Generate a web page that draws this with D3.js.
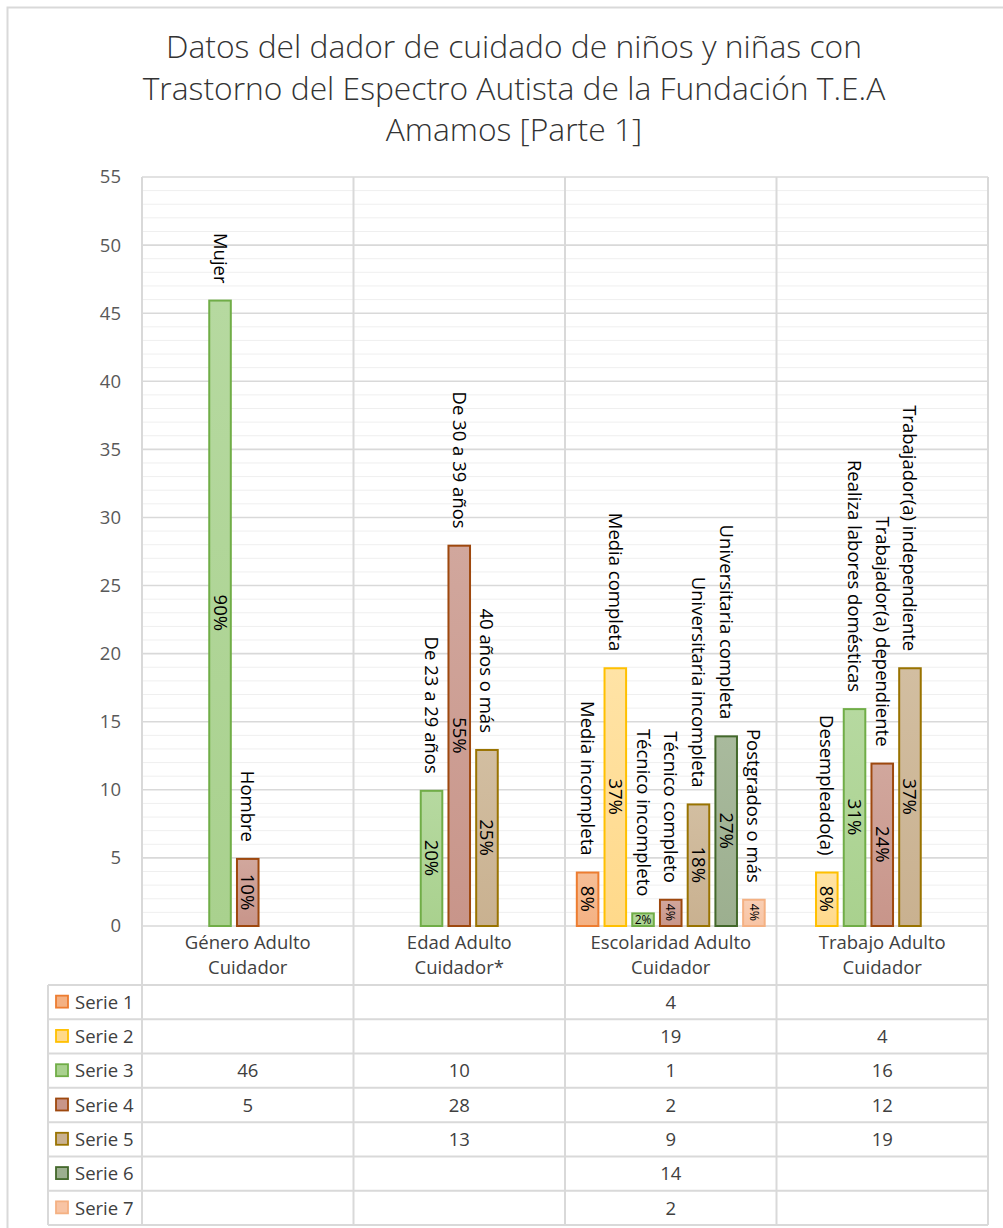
<!DOCTYPE html>
<html><head><meta charset="utf-8">
<script src="https://cdn.jsdelivr.net/npm/d3@7"></script>
<style>
body{margin:0;background:#fff;}
svg{display:block;font-family:'Open Sans','Noto Sans',sans-serif;}
</style>
</head><body>
<svg id="chart" width="1003" height="1228"></svg>
<script>
// ---------- DATA ----------
const titleLines = [
  "Datos del dador de cuidado de niños y niñas con",
  "Trastorno del Espectro Autista de la Fundación T.E.A",
  "Amamos [Parte 1]"
];
const categories = ["Género Adulto Cuidador","Edad Adulto Cuidador*","Escolaridad Adulto Cuidador","Trabajo Adulto Cuidador"];
const categoryLines = [["Género Adulto","Cuidador"],["Edad Adulto","Cuidador*"],["Escolaridad Adulto","Cuidador"],["Trabajo Adulto","Cuidador"]];
const seriesNames = ["Serie 1","Serie 2","Serie 3","Serie 4","Serie 5","Serie 6","Serie 7"];
const yTicks = [0,5,10,15,20,25,30,35,40,45,50,55];

const serie1 = [null, null, 4, null];
const serie2 = [null, null, 19, 4];
const serie3 = [46, 10, 1, 16];
const serie4 = [5, 28, 2, 12];
const serie5 = [null, 13, 9, 19];
const serie6 = [null, null, 14, null];
const serie7 = [null, null, 2, null];

const names1 = [null, null, "Media incompleta", null];
const names2 = [null, null, "Media completa", "Desempleado(a)"];
const names3 = ["Mujer", "De 23 a 29 años", "Técnico incompleto", "Realiza labores domésticas"];
const names4 = ["Hombre", "De 30 a 39 años", "Técnico completo", "Trabajador(a) dependiente"];
const names5 = [null, "40 años o más", "Universitaria incompleta", "Trabajador(a) independiente"];
const names6 = [null, null, "Universitaria completa", null];
const names7 = [null, null, "Postgrados o más", null];

const pct1 = [null, null, "8%", null];
const pct2 = [null, null, "37%", "8%"];
const pct3 = ["90%", "20%", "2%", "31%"];
const pct4 = ["10%", "55%", "4%", "24%"];
const pct5 = [null, "25%", "18%", "37%"];
const pct6 = [null, null, "27%", null];
const pct7 = [null, null, "4%", null];

const fills   = ["#F4B183","#FFD98A","#A9D18E","#C8958A","#C9B190","#9CAF8F","#F8C4A4"];
const fillsTop= ["#F6BE96","#FFE3A6","#B6D9A0","#D1A79D","#D2BEA1","#A9BA9D","#F9CFB4"];
const strokes = ["#ED7D31","#FFC000","#70AD47","#9E480E","#997300","#43682B","#F4B183"];

const seriesValues = [serie1,serie2,serie3,serie4,serie5,serie6,serie7];
const seriesLabels = [names1,names2,names3,names4,names5,names6,names7];
const seriesPcts = [pct1,pct2,pct3,pct4,pct5,pct6,pct7];

// ---------- LAYOUT ----------
const svg = d3.select("#chart");
const plotL = 142, plotR = 988, plotT = 177, plotB = 926;
const tableL = 48, headerB = 985, tableB = 1225;
const gridCol = "#d9d9d9";

svg.append("rect").attr("x",7.5).attr("y",7.5).attr("width",1100).attr("height",1300)
  .attr("fill","#fff").attr("stroke","#d9d9d9").attr("stroke-width",2);

const defs = svg.append("defs");
fills.forEach((c,i)=>{
  const g = defs.append("linearGradient").attr("id","g"+i).attr("x1",0).attr("y1",0).attr("x2",0).attr("y2",1);
  g.append("stop").attr("offset","0%").attr("stop-color",fillsTop[i]);
  g.append("stop").attr("offset","100%").attr("stop-color",c);
});

// title
const title = svg.append("g").attr("fill","#333").attr("font-weight",300);
const titleY = [58, 100, 141];
const tNodes = titleLines.map((t,i)=> title.append("text").attr("x",514).attr("y",titleY[i])
  .attr("text-anchor","middle").attr("font-size",25).text(t));
const w2 = tNodes[1].node().getComputedTextLength();
const tSize = 25*743/w2;
tNodes.forEach(n=>n.attr("font-size",tSize));

// scales
const y = d3.scaleLinear().domain([0,55]).range([plotB,plotT]);
const x0 = d3.scaleBand().domain(categories).range([plotL,plotR]).paddingInner(0).paddingOuter(0);
const x1 = d3.scaleBand().domain(d3.range(seriesNames.length)).range([0,x0.bandwidth()]).paddingInner(0.15).paddingOuter(0.39);

// gridlines
const minor = d3.range(1,56).filter(v=>v%5!==0);
svg.append("g").selectAll("line").data(minor).join("line")
  .attr("x1",plotL).attr("x2",plotR).attr("y1",d=>y(d)).attr("y2",d=>y(d))
  .attr("stroke","#efefef").attr("stroke-width",1);
svg.append("g").selectAll("line").data(yTicks).join("line")
  .attr("x1",plotL).attr("x2",plotR).attr("y1",d=>y(d)).attr("y2",d=>y(d))
  .attr("stroke",gridCol).attr("stroke-width",1.6);

// y axis labels
const yAxis = d3.axisLeft(y).tickValues(yTicks).tickSize(0).tickPadding(0);
const ya = svg.append("g").attr("transform",`translate(${plotL-21},0)`).call(yAxis);
ya.select(".domain").remove();
ya.selectAll("text").attr("font-size",18.5).attr("fill","#595959").attr("font-family","'Open Sans',sans-serif");

// table rows
const rowScale = d3.scaleBand().domain(seriesNames).range([headerB,tableB]);
const hLines = [headerB].concat(seriesNames.map(s=>rowScale(s)+rowScale.bandwidth()));
svg.append("g").selectAll("line").data(hLines).join("line")
  .attr("x1",tableL).attr("x2",plotR).attr("y1",d=>d).attr("y2",d=>d)
  .attr("stroke",gridCol).attr("stroke-width",2);
svg.append("line").attr("x1",tableL).attr("x2",tableL).attr("y1",headerB).attr("y2",tableB)
  .attr("stroke",gridCol).attr("stroke-width",2);

const vx = categories.map(c=>x0(c)).concat([plotR]);
svg.append("g").selectAll("line").data(vx).join("line")
  .attr("x1",d=>d).attr("x2",d=>d).attr("y1",plotT).attr("y2",tableB)
  .attr("stroke",gridCol).attr("stroke-width",2);

// category labels
const catG = svg.append("g").attr("fill","#404040").attr("font-size",18.5).attr("text-anchor","middle");
categories.forEach((c,i)=>{
  categoryLines[i].forEach((l,j)=>{
    catG.append("text").attr("x",x0(c)+x0.bandwidth()/2).attr("y",949+j*25).text(l);
  });
});

// legend column
const leg = svg.append("g");
seriesNames.forEach((s,i)=>{
  const cy = rowScale(s)+rowScale.bandwidth()/2;
  leg.append("rect").attr("x",56).attr("y",cy-6.5).attr("width",12).attr("height",12)
    .attr("fill",fills[i]).attr("stroke",strokes[i]).attr("stroke-width",1.8);
  leg.append("text").attr("x",75).attr("y",cy).attr("dy","0.36em").attr("font-size",18.5)
    .attr("fill","#404040").text(s);
});

// table values
const tv = svg.append("g").attr("fill","#404040").attr("font-size",18.5).attr("text-anchor","middle");
seriesValues.forEach((vals,i)=>{
  const cy = rowScale(seriesNames[i])+rowScale.bandwidth()/2;
  vals.forEach((v,j)=>{
    if(v==null) return;
    tv.append("text").attr("x",x0(categories[j])+x0.bandwidth()/2).attr("y",cy).attr("dy","0.36em").text(v);
  });
});

// bars
const bars = [];
seriesValues.forEach((vals,i)=>vals.forEach((v,j)=>{
  if(v!=null) bars.push({s:i,c:j,v:v,name:seriesLabels[i][j],pct:seriesPcts[i][j]});
}));
svg.append("g").selectAll("rect").data(bars).join("rect")
  .attr("x",d=>x0(categories[d.c])+x1(d.s)+1)
  .attr("width",x1.bandwidth()-2)
  .attr("y",d=>y(d.v)+1)
  .attr("height",d=>y(0)-y(d.v)-1)
  .attr("fill",d=>`url(#g${d.s})`)
  .attr("stroke",d=>strokes[d.s]).attr("stroke-width",2);

// labels
const lab = svg.append("g").attr("fill","#000");
bars.forEach(d=>{
  const cx = x0(categories[d.c])+x1(d.s)+x1.bandwidth()/2;
  const ty = y(d.v)-16;
  lab.append("text").attr("transform",`translate(${cx},${ty}) rotate(90)`)
    .attr("text-anchor","end").attr("dy","0.35em").attr("font-size",18.5).text(d.name);
  const my = (y(d.v)+y(0))/2;
  if(d.v<=1){
    lab.append("text").attr("x",cx).attr("y",my).attr("dy","0.36em").attr("text-anchor","middle")
      .attr("font-size",12).text(d.pct);
  } else {
    lab.append("text").attr("transform",`translate(${cx},${my}) rotate(90)`)
      .attr("text-anchor","middle").attr("dy","0.35em").attr("font-size",d.v<=2?12.5:18.5).text(d.pct);
  }
});
</script>
</body></html>
